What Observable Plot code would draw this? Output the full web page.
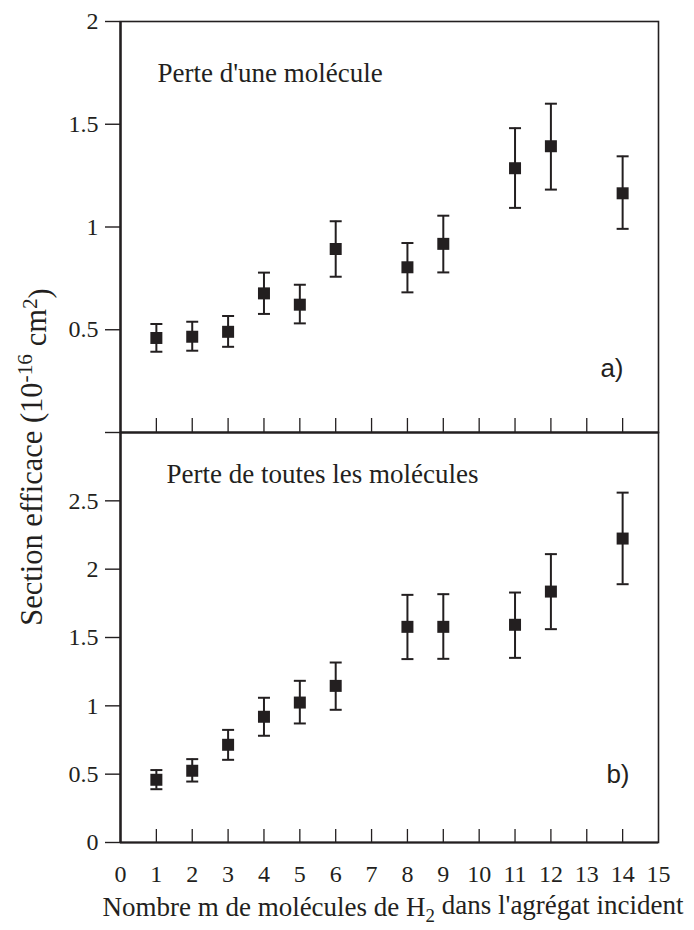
<!DOCTYPE html>
<html>
<head>
<meta charset="utf-8">
<script src="https://cdn.jsdelivr.net/npm/d3@7"></script>
<script src="https://cdn.jsdelivr.net/npm/@observablehq/plot@0.6"></script>
<style>
  body { margin: 0; background: #fff; }
  #wrap { position: relative; width: 694px; height: 930px; }
  #wrap > svg { display: block; }
</style>
</head>
<body>
<div id="wrap"></div>
<script>
// ---- data ----
const m = [1, 2, 3, 4, 5, 6, 8, 9, 11, 12, 14];

// a) Perte d'une molécule
const lossOne     = [0.460, 0.466, 0.490, 0.677, 0.622, 0.893, 0.804, 0.918, 1.286, 1.393, 1.164];
const lossOneLow  = [0.393, 0.398, 0.417, 0.577, 0.531, 0.758, 0.682, 0.779, 1.093, 1.182, 0.991];
const lossOneHigh = [0.528, 0.539, 0.567, 0.778, 0.719, 1.028, 0.922, 1.055, 1.481, 1.600, 1.344];

// b) Perte de toutes les molécules
const lossAll     = [0.459, 0.525, 0.715, 0.920, 1.024, 1.146, 1.578, 1.578, 1.593, 1.836, 2.224];
const lossAllLow  = [0.390, 0.446, 0.605, 0.781, 0.871, 0.971, 1.342, 1.344, 1.351, 1.561, 1.890];
const lossAllHigh = [0.530, 0.610, 0.824, 1.059, 1.183, 1.317, 1.812, 1.817, 1.829, 2.110, 2.560];

const xTickLabels = [0, 1, 2, 3, 4, 5, 6, 7, 8, 9, 10, 11, 12, 13, 14, 15];
const xInnerTicks = [1, 2, 3, 4, 5, 6, 7, 8, 9, 10, 11, 12, 13, 14];
const yTicksTop = [0, 0.5, 1, 1.5, 2];
const yTicksBottom = [0, 0.5, 1, 1.5, 2, 2.5];

const titleTop = "Perte d'une molécule";
const titleBottom = "Perte de toutes les molécules";

// ---- styling ----
const W = 694;
const INK = "#231f20";
const SERIF = "'Liberation Serif', 'Times New Roman', serif";
const SANS = "'Liberation Sans', Arial, sans-serif";
const SQ = 12; // square side in px
const CAP = 6; // half cap width

const capSymbol = {
  draw(context, size) {
    const h = Math.sqrt(size / Math.PI);
    context.moveTo(-h, 0);
    context.lineTo(h, 0);
  }
};

const topData = m.map((x, i) => ({m: x, v: lossOne[i], lo: lossOneLow[i], hi: lossOneHigh[i]}));
const botData = m.map((x, i) => ({m: x, v: lossAll[i], lo: lossAllLow[i], hi: lossAllHigh[i]}));

function errMarks(data) {
  return [
    Plot.ruleX(data, {x: "m", y1: "lo", y2: "hi", stroke: INK, strokeWidth: 2}),
    Plot.dot(data, {x: "m", y: "lo", symbol: capSymbol, r: CAP, stroke: INK, strokeWidth: 2, fill: "none"}),
    Plot.dot(data, {x: "m", y: "hi", symbol: capSymbol, r: CAP, stroke: INK, strokeWidth: 2, fill: "none"}),
    Plot.dot(data, {x: "m", y: "v", symbol: "square", r: SQ / Math.sqrt(Math.PI), fill: INK, stroke: "none"})
  ];
}

const common = {
  width: W,
  marginLeft: 120,
  marginRight: 36,
  x: {domain: [0, 15]},
  style: {fontFamily: SERIF, fontSize: "24px", color: INK, background: "none", overflow: "visible"}
};

const topPlot = Plot.plot({
  ...common,
  height: 432,
  marginTop: 21,
  marginBottom: 0,
  y: {domain: [0, 2]},
  marks: [
    Plot.frame({stroke: INK, strokeWidth: 1.6}),
    Plot.ruleX([0], {stroke: INK, strokeWidth: 2.4}),
    Plot.ruleY([0], {stroke: INK, strokeWidth: 2.2}),
    Plot.axisY({ticks: yTicksTop, tickFormat: d => d === 0 ? "" : String(d), tickSize: 15, tickPadding: 7, label: null, stroke: INK, strokeWidth: 1.4, fill: INK}),
    Plot.axisX({ticks: xInnerTicks, tickSize: 14, dy: -14, tickFormat: () => "", label: null, stroke: INK, strokeWidth: 1.3}),
    Plot.text([titleTop], {frameAnchor: "top-left", dx: 37, dy: 52, textAnchor: "start", lineAnchor: "middle", fontSize: 27, fill: INK}),
    Plot.text(["a)"], {frameAnchor: "bottom-right", dx: -35, dy: -64, textAnchor: "end", lineAnchor: "middle", fontFamily: SANS, fontSize: 26, fill: INK}),
    ...errMarks(topData)
  ]
});

const botPlot = Plot.plot({
  ...common,
  height: 498,
  marginTop: 0,
  marginBottom: 88,
  y: {domain: [0, 3]},
  marks: [
    Plot.frame({stroke: INK, strokeWidth: 1.6}),
    Plot.ruleX([0], {stroke: INK, strokeWidth: 2.4}),
    Plot.ruleY([0], {stroke: INK, strokeWidth: 2.2}),
    Plot.axisY({ticks: yTicksBottom, tickFormat: d => String(d), tickSize: 15, tickPadding: 7, label: null, stroke: INK, strokeWidth: 1.4, fill: INK}),
    Plot.axisX({ticks: xInnerTicks, tickSize: 13, dy: -13, tickFormat: () => "", label: null, stroke: INK, strokeWidth: 1.3}),
    Plot.axisX({ticks: xTickLabels, tickSize: 0, tickPadding: 22, label: null, fill: INK}),
    Plot.text([titleBottom], {frameAnchor: "top-left", dx: 46, dy: 42, textAnchor: "start", lineAnchor: "middle", fontSize: 27, fill: INK}),
    Plot.text(["b)"], {frameAnchor: "bottom-right", dx: -29, dy: -68, textAnchor: "end", lineAnchor: "middle", fontFamily: SANS, fontSize: 26, fill: INK}),
    ...errMarks(botData)
  ]
});

const wrap = document.getElementById("wrap");
wrap.appendChild(topPlot);
wrap.appendChild(botPlot);

// ---- axis titles (with sub/superscripts) ----
const over = d3.select(wrap).append("svg")
  .attr("width", W).attr("height", 930)
  .style("position", "absolute").style("left", 0).style("top", 0)
  .style("pointer-events", "none")
  .attr("font-family", SERIF).attr("fill", INK);

const yt = over.append("text")
  .attr("transform", "translate(42,457) rotate(-90)")
  .attr("text-anchor", "middle")
  .attr("font-size", 30.5);
yt.append("tspan").text("Section efficace (10");
yt.append("tspan").attr("dy", "-0.45em").attr("font-size", "0.7em").text("-16");
yt.append("tspan").attr("dy", "0.45em").text(" cm");
yt.append("tspan").attr("dy", "-0.45em").attr("font-size", "0.7em").text("2");
yt.append("tspan").attr("dy", "0.45em").text(")");

const xt = over.append("text")
  .attr("x", 393).attr("y", 916)
  .attr("text-anchor", "middle")
  .attr("font-size", 27);
xt.append("tspan").text("Nombre m de molécules de H");
xt.append("tspan").attr("dy", "0.3em").attr("font-size", "0.7em").text("2");
xt.append("tspan").attr("dy", "-0.3em").text(" dans l'agrégat incident");
</script>
</body>
</html>
